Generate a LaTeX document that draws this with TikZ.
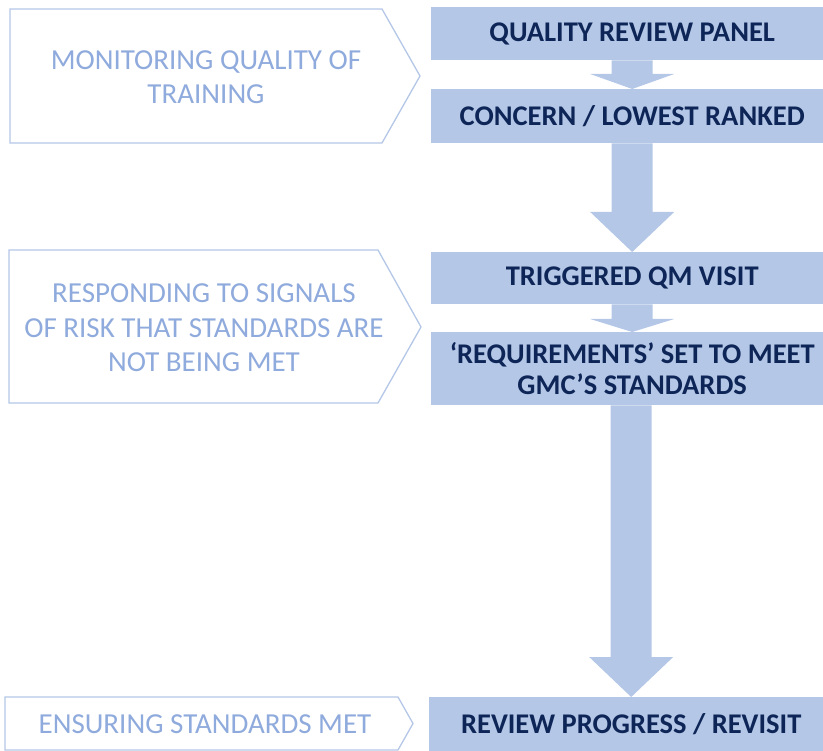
\documentclass[tikz,border=0pt]{standalone}
\usepackage{fontspec}
\setmainfont{Carlito}
\usetikzlibrary{calc}

\definecolor{boxfill}{HTML}{B4C7E7}
\definecolor{navy}{HTML}{0E2657}
\definecolor{stagetext}{HTML}{8FAADC}
\definecolor{stageline}{HTML}{B4C7E7}

\tikzset{
  stepbox/.style={fill=boxfill, draw=none, minimum width=402pt, inner sep=0pt,
    text=navy, font=\fontsize{28.5}{31}\selectfont\bfseries, align=center, anchor=north west},
  stagelabel/.style={text=stagetext, font=\fontsize{29}{34.5}\selectfont, align=center},
  stageoutline/.style={draw=stageline, line width=1.3pt, fill=white, line join=miter},
  flow/.style={fill=boxfill, draw=none}
}

% block arrow from the bottom of one box to the top of the next; #3 = head length
\newcommand\flowarrow[3]{%
  \fill[flow] let \p1=(#1.south), \p2=(#2.north) in
    (\x2-20.5pt,\y1) -- (\x2-20.5pt,\y2+#3pt) -- (\x2-42pt,\y2+#3pt) -- (\x2,\y2)
    -- (\x2+42pt,\y2+#3pt) -- (\x2+20.5pt,\y2+#3pt) -- (\x2+20.5pt,\y1) -- cycle;
}

\begin{document}
\begin{tikzpicture}[x=1pt,y=-1pt]
\useasboundingbox (0,0) rectangle (823,751);

% stage chevrons on the left
\draw[stageoutline] (10,9) -- (382,9) -- (420,76) -- (382,143) -- (10,143) -- cycle;
\node[stagelabel] (s1) at (206,77) {MONITORING QUALITY OF\\TRAINING};

\draw[stageoutline] (9,250) -- (378,250) -- (421,327) -- (378,403) -- (9,403) -- cycle;
\node[stagelabel] (s2) at (204,328) {RESPONDING TO SIGNALS\\OF RISK THAT STANDARDS ARE\\NOT BEING MET};

\draw[stageoutline] (5,697) -- (398,697) -- (413,723.5) -- (398,750) -- (5,750) -- cycle;
\node[stagelabel] (s3) at (205,724) {ENSURING STANDARDS MET};

% process steps on the right
\node[stepbox, minimum height=53pt] (b1) at (431,7) {QUALITY REVIEW PANEL};
\node[stepbox, minimum height=54pt] (b2) at (431,89) {CONCERN / LOWEST RANKED};
\node[stepbox, minimum height=52pt] (b3) at (431,252) {TRIGGERED QM VISIT};
\node[stepbox, minimum height=73pt] (b4) at (431,332) {‘REQUIREMENTS’ SET TO MEET\\GMC’S STANDARDS};
\node[stepbox, minimum height=54pt, minimum width=404pt] (b5) at (429,697) {REVIEW PROGRESS / REVISIT};

% connecting block arrows
\flowarrow{b1}{b2}{15}
\flowarrow{b2}{b3}{40}
\flowarrow{b3}{b4}{13}
\flowarrow{b4}{b5}{40}
\end{tikzpicture}
\end{document}
